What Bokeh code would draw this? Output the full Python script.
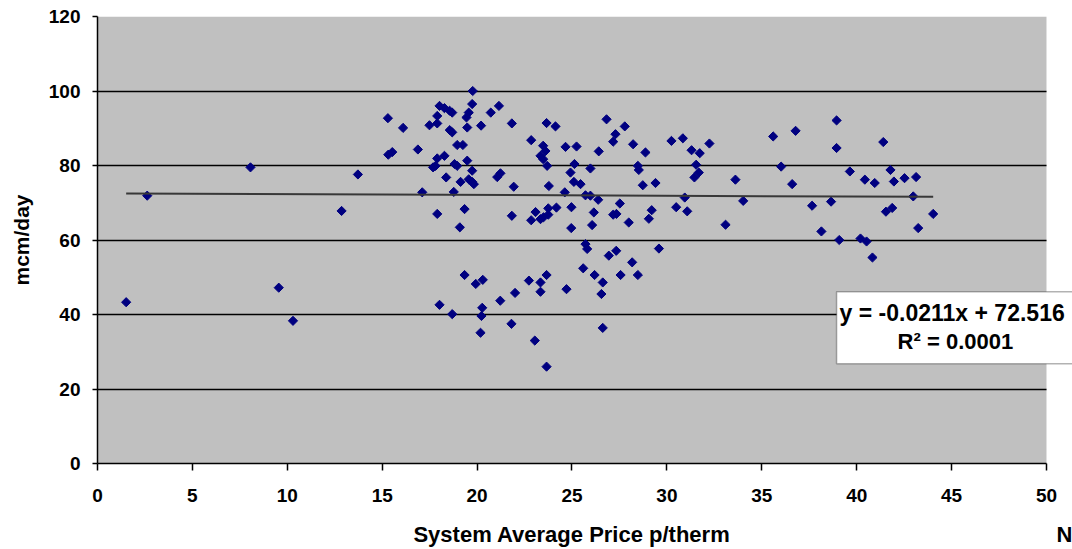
import math

from bokeh.plotting import figure
from bokeh.models import Range1d, BoxAnnotation, Label, FixedTicker, LinearAxis
from bokeh.embed import file_html
from bokeh.resources import INLINE

# System average price (p/therm) against daily flow (mcm/day)
price = [1.51, 2.62, 8.06, 9.55, 10.30, 12.86, 13.72, 15.30, 15.32, 15.53,
         16.10, 16.88, 17.11, 17.49, 17.68, 17.81, 17.90, 17.90, 17.90, 17.90,
         18.02, 18.02, 18.28, 18.28, 18.37, 18.55, 18.56, 18.69, 18.69, 18.69,
         18.77, 18.81, 18.95, 18.95, 19.09, 19.13, 19.25, 19.34, 19.34, 19.44,
         19.48, 19.48, 19.56, 19.56, 19.74, 19.74, 19.74, 19.77, 19.83, 19.93,
         20.21, 20.27, 20.23, 20.18, 20.30, 20.72, 21.06, 21.15, 21.23, 21.22,
         21.83, 21.83, 21.81, 21.93, 22.00, 22.73, 22.85, 22.85, 23.04, 23.08,
         23.34, 23.34, 23.34, 23.34, 23.48, 23.48, 23.50, 23.60, 23.66, 23.66,
         23.66, 23.69, 23.75, 23.75, 23.78, 24.13, 24.18, 24.62, 24.66, 24.71,
         24.92, 24.97, 24.96, 25.10, 25.13, 25.24, 25.45, 25.59, 25.71, 25.71,
         25.80, 25.97, 25.97, 26.06, 26.15, 26.19, 26.38, 26.41, 26.55, 26.62,
         26.62, 26.82, 26.94, 27.17, 27.17, 27.29, 27.33, 27.34, 27.52, 27.56,
         27.78, 27.99, 28.17, 28.22, 28.47, 28.47, 28.52, 28.73, 28.87, 29.05,
         29.20, 29.40, 29.58, 30.24, 30.49, 30.84, 30.94, 31.07, 31.30, 31.45,
         31.54, 31.68, 31.73, 32.24, 33.09, 33.61, 34.02, 35.60, 36.02, 36.60,
         36.78, 37.65, 38.14, 38.65, 38.94, 38.94, 39.08, 39.64, 40.20, 40.43,
         40.52, 40.83, 40.95, 41.40, 41.54, 41.78, 41.87, 41.96, 42.52, 42.98,
         43.13, 43.24, 44.03]

flow = [43.3, 71.9, 79.5, 47.2, 38.3, 67.8, 77.6, 92.7, 82.9, 83.6,
        90.1, 84.3, 72.8, 90.8, 79.5, 79.9, 93.3, 91.3, 81.9, 67.0,
        96.0, 42.6, 95.4, 82.6, 76.8, 94.7, 89.5, 94.2, 88.9, 40.1,
        72.9, 80.4, 85.5, 79.9, 63.4, 75.6, 85.5, 68.3, 50.6, 92.9,
        90.2, 81.3, 94.2, 76.3, 96.5, 78.6, 75.6, 100.0, 75.0, 48.2,
        90.7, 41.8, 39.6, 35.1, 49.3, 94.2, 76.9, 96.0, 77.9, 43.7,
        91.3, 66.5, 37.5, 74.3, 45.8, 49.1, 86.8, 65.3, 33.0, 67.5,
        82.6, 65.6, 48.6, 46.1, 85.3, 81.7, 66.1, 83.9, 91.4, 50.6,
        26.0, 79.9, 68.5, 66.8, 74.5, 90.5, 68.7, 72.8, 85.0, 46.8,
        78.1, 68.8, 63.2, 75.6, 80.4, 85.1, 75.0, 52.4, 72.0, 58.9,
        57.6, 79.2, 71.9, 64.0, 67.4, 50.6, 70.8, 83.8, 45.5, 48.6,
        36.4, 92.4, 55.8, 86.4, 66.8, 88.4, 57.1, 67.0, 69.8, 50.6,
        90.5, 64.7, 54.0, 85.7, 79.9, 50.6, 78.8, 74.7, 83.5, 65.7,
        68.0, 75.3, 57.7, 86.6, 68.8, 87.3, 71.4, 67.7, 84.1, 76.8,
        80.2, 78.1, 83.3, 85.9, 64.1, 76.2, 70.5, 87.8, 79.7, 75.0,
        89.3, 69.2, 62.3, 70.3, 92.1, 84.7, 60.0, 78.4, 60.4, 76.2,
        59.6, 55.3, 75.3, 86.3, 67.6, 78.8, 68.6, 75.7, 76.6, 71.7,
        76.9, 63.2, 67.0]

# Linear trend line fitted to the series
slope = -0.0211
intercept = 72.516
r_squared = "0.0001"

x_ticks = [0, 5, 10, 15, 20, 25, 30, 35, 40, 45, 50]
y_ticks = [0, 20, 40, 60, 80, 100, 120]

x_title = "System Average Price p/therm"
y_title = "mcm/day"
next_caption = "N"

X_MAX = 50
Y_MAX = 120
FONT = "Liberation Sans"

p = figure(width=1072, height=549,
           x_range=Range1d(0, 51.37), y_range=Range1d(0, Y_MAX),
           output_backend="svg", toolbar_location=None,
           min_border_left=97, min_border_right=0,
           min_border_top=16, min_border_bottom=86,
           background_fill_color="white", border_fill_color="white",
           outline_line_color=None)

# grey plot area, limited to the axis extent
p.add_layout(BoxAnnotation(left=0, right=X_MAX, bottom=0, top=Y_MAX,
                           fill_color="#C0C0C0", fill_alpha=1.0,
                           line_color=None, level="image"))

# axes
for ax in (p.xaxis, p.yaxis):
    ax.axis_line_color = "black"
    ax.axis_line_width = 1.5
    ax.major_tick_line_color = "black"
    ax.major_tick_line_width = 1.5
    ax.major_tick_in = 0
    ax.minor_tick_line_color = None
    ax.major_label_text_font = FONT
    ax.major_label_text_font_style = "bold"
    ax.major_label_text_font_size = "19px"
    ax.major_label_text_color = "black"
    ax.axis_label_text_font = FONT
    ax.axis_label_text_font_style = "bold"
    ax.axis_label_text_font_size = "21px"
    ax.axis_label_text_color = "black"

p.xaxis.ticker = FixedTicker(ticks=x_ticks)
p.xaxis.bounds = (0, X_MAX)
p.xaxis.major_tick_out = 7
p.xaxis.major_label_standoff = 18

p.yaxis.ticker = FixedTicker(ticks=y_ticks)
p.yaxis.major_tick_out = 5
p.yaxis.major_label_standoff = 12
p.yaxis.axis_label = y_title
p.yaxis.axis_label_standoff = 13

# text row under the x axis: the axis title and the start of the next caption
title_pos = [X_MAX / 2, 51.2]
title_axis = LinearAxis(ticker=FixedTicker(ticks=title_pos),
                        major_label_overrides={title_pos[0]: x_title,
                                               title_pos[1]: next_caption},
                        axis_line_color=None, major_tick_line_color=None,
                        minor_tick_line_color=None,
                        major_tick_in=0, major_tick_out=0,
                        major_label_standoff=17,
                        major_label_text_font=FONT,
                        major_label_text_font_style="bold",
                        major_label_text_font_size="22px",
                        major_label_text_color="black")
p.add_layout(title_axis, "below")

# horizontal gridlines
p.xgrid.visible = False
p.ygrid.ticker = FixedTicker(ticks=y_ticks)
p.ygrid.grid_line_color = "black"
p.ygrid.grid_line_width = 1.6
if "cross_bounds" in p.ygrid[0].properties():
    p.ygrid.cross_bounds = (0, X_MAX)

# data points (small diamonds)
p.scatter(price, flow, marker="square", size=6.5, angle=math.pi / 4,
          fill_color="#000080", line_color="#000080", line_width=1)

# trend line
tx = [min(price), max(price)]
ty = [slope * v + intercept for v in tx]
p.line(tx, ty, line_color="#383838", line_width=2)

# equation box
p.add_layout(BoxAnnotation(left=38.94, right=53, bottom=26.8, top=46.1,
                           fill_color="white", fill_alpha=1.0,
                           line_color="black", line_width=1.5))
p.add_layout(Label(x=39.1, y=40.3,
                   text=f"y = {slope}x + {intercept}",
                   text_baseline="middle", text_align="left",
                   text_font=FONT, text_font_style="bold",
                   text_font_size="23px", text_color="black"))
p.add_layout(Label(x=45.2, y=32.8,
                   text=f"R\u00b2 = {r_squared}",
                   text_baseline="middle", text_align="center",
                   text_font=FONT, text_font_style="bold",
                   text_font_size="22px", text_color="black"))

open("out.html", "w").write(file_html(p, INLINE))
